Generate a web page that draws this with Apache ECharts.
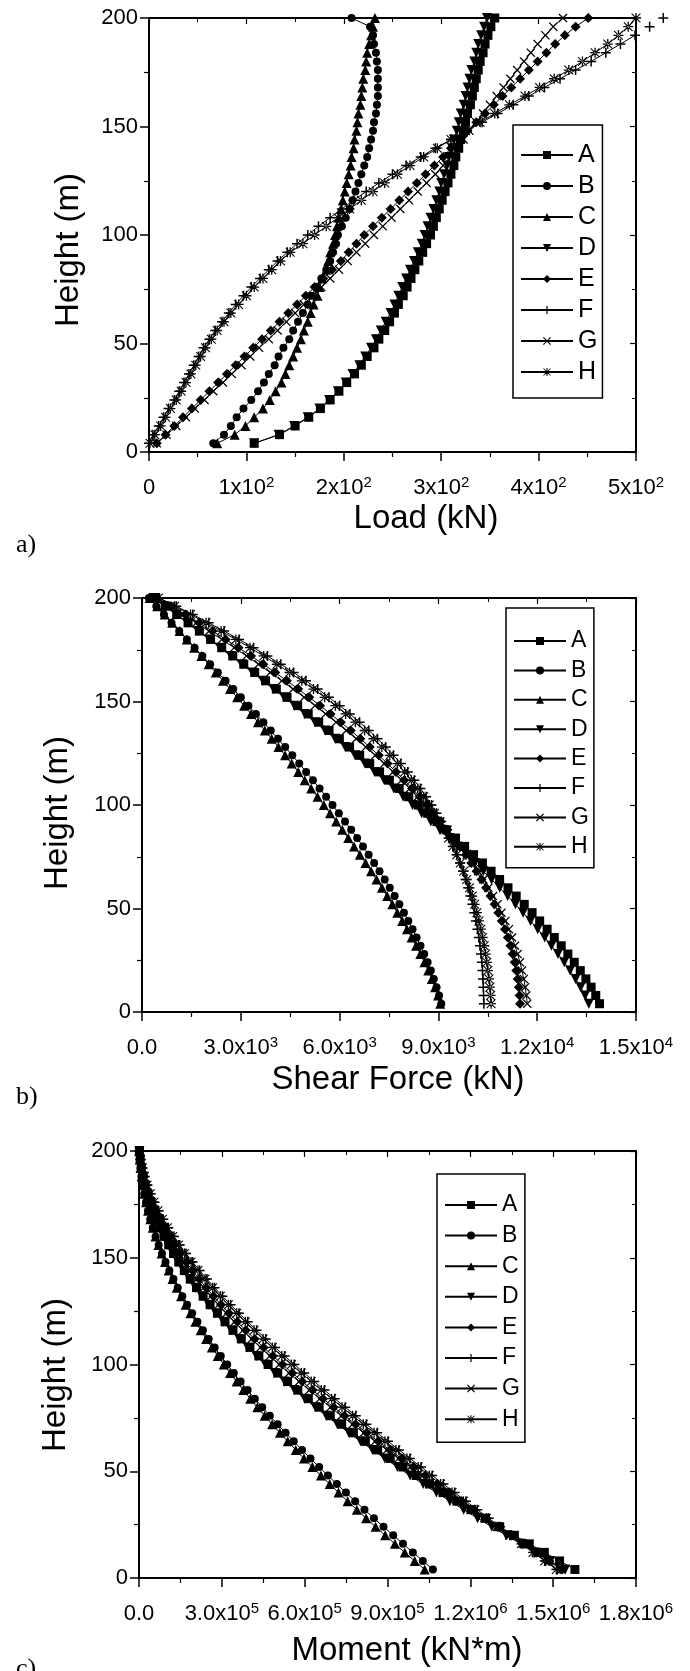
<!DOCTYPE html>
<html><head><meta charset="utf-8">
<script src="https://cdn.jsdelivr.net/npm/echarts@6.0.0/dist/echarts.min.js"></script>
<style>html,body{margin:0;padding:0;background:#fff}#c{width:690px;height:1671px}</style>
</head><body><div id="c"></div>
<script>
// ---------------- DATA ----------------
const heights = [4,8,12,16,20,24,28,32,36,40,44,48,52,56,60,64,68,72,76,80,84,88,92,96,100,104,108,112,116,120,124,128,132,136,140,144,148,152,156,160,164,168,172,176,180,184,188,192,196,200];
const seriesNames = ['A','B','C','D','E','F','G','H'];

// (a) Load (kN), listed from height 4 m up to 200 m
const loadA = [108,134,150,164,176,186,195,203,211,218,224,231,236,242,247,252,256,261,265,269,273,277,281,285,289,292,295,298,301,304,307,310,313,315,318,320,323,325,327,330,332,334,336,338,340,343,345,348,351,355];
const loadB = [66,77,84,90,97,105,112,118,123,129,133,138,144,148,153,158,163,167,172,177,182,186,189,192,194,198,202,206,209,212,215,218,221,224,226,228,230,231,233,234,235,235,235,235,234,233,231,230,227,208];
const loadC = [70,88,99,108,117,124,130,136,140,144,148,152,156,159,163,166,169,173,175,178,182,184,186,189,191,193,195,197,199,201,203,205,207,208,210,211,213,214,215,217,218,219,220,222,223,224,226,228,230,232];
const loadD = [108,133,149,163,175,185,194,202,209,216,222,228,233,238,243,248,252,256,260,264,268,272,276,280,283,286,289,292,295,298,300,303,306,308,311,313,316,318,320,323,325,327,329,331,334,336,338,341,344,347];
const loadE = [8,17,26,35,44,53,62,71,80,89,98,107,116,125,134,143,152,161,170,179,188,197,205,213,221,230,239,248,257,266,275,284,293,302,310,318,327,336,345,354,363,372,381,390,399,408,417,427,438,451];
const loadF = [0,4,10,15,20,26,31,36,41,46,51,56,62,68,75,82,89,97,105,114,123,132,142,152,163,174,186,198,210,223,236,250,264,279,294,310,326,342,358,374,390,406,422,438,454,469,484,499,514,528];
const loadG = [8,18,28,38,47,57,66,76,85,95,104,113,123,132,141,150,159,168,177,186,195,204,213,222,231,240,249,258,267,276,285,294,302,310,317,323,329,336,343,350,357,364,371,378,385,392,399,407,415,425];
const loadH = [1,6,12,17,22,28,33,38,43,48,53,58,64,70,77,84,92,100,108,117,126,135,145,158,170,182,194,206,218,230,242,255,268,282,296,310,325,340,355,370,386,401,416,431,445,458,471,482,492,500];

// (b) Shear force (kN)
const shearA = [13893,13778,13637,13479,13308,13125,12931,12729,12519,12301,12075,11844,11606,11362,11113,10859,10600,10336,10068,9796,9519,9239,8955,8674,8389,8100,7808,7513,7215,6914,6610,6303,5993,5680,5365,5047,4727,4404,4079,3752,3422,3090,2756,2420,2082,1742,1399,1054,706,355];
const shearB = [9087,9021,8944,8860,8770,8673,8568,8456,8338,8215,8086,7953,7815,7671,7523,7370,7212,7049,6882,6710,6533,6351,6165,5976,5784,5590,5392,5190,4984,4775,4563,4348,4130,3909,3685,3459,3231,3001,2770,2537,2303,2068,1833,1598,1363,1129,896,665,435,208];
const shearC = [9057,8987,8899,8800,8692,8575,8451,8321,8185,8045,7901,7753,7601,7445,7286,7123,6957,6788,6615,6440,6262,6080,5896,5710,5521,5330,5137,4942,4745,4546,4345,4142,3937,3730,3522,3312,3101,2888,2674,2459,2242,2024,1805,1585,1363,1140,916,690,462,232];
const shearD = [13567,13455,13319,13166,12999,12821,12632,12434,12229,12016,11797,11571,11339,11103,10861,10614,10363,10107,9847,9584,9316,9045,8769,8493,8213,7930,7644,7355,7063,6768,6470,6170,5867,5561,5253,4942,4629,4313,3995,3675,3352,3027,2700,2371,2040,1706,1370,1032,691,347];
const shearE = [11480,11465,11441,11408,11366,11314,11254,11185,11107,11020,10924,10819,10705,10582,10450,10309,10159,9999,9831,9654,9468,9273,9069,8864,8651,8430,8200,7961,7713,7456,7190,6915,6631,6338,6036,5726,5408,5081,4745,4400,4046,3683,3311,2930,2540,2141,1733,1316,889,451];
const shearF = [10380,10372,10364,10354,10339,10319,10293,10262,10226,10185,10139,10088,10032,9970,9902,9827,9745,9656,9559,9454,9340,9217,9085,8943,8791,8628,8454,8268,8070,7860,7637,7401,7151,6887,6608,6314,6004,5678,5336,4978,4604,4214,3808,3386,2948,2494,2025,1541,1042,528];
const shearG = [11698,11670,11636,11592,11538,11477,11406,11326,11238,11141,11034,10918,10793,10660,10518,10367,10207,10038,9860,9673,9477,9272,9058,8835,8603,8372,8132,7883,7625,7358,7082,6797,6503,6201,5891,5574,5251,4922,4586,4243,3893,3536,3172,2801,2423,2038,1646,1247,840,425];
const shearH = [10600,10584,10563,10536,10504,10472,10434,10391,10343,10290,10232,10169,10101,10027,9947,9860,9766,9664,9554,9436,9309,9173,9028,8883,8725,8555,8373,8179,7973,7755,7525,7283,7028,6760,6478,6182,5872,5547,5207,4852,4482,4096,3695,3279,2848,2403,1945,1474,992,500];

// (c) Moment (kN*m)
const momentA = [1578684,1523112,1468000,1413452,1359536,1306304,1253804,1202080,1151164,1101088,1051884,1003584,956208,909784,864336,819884,776448,734048,692704,652432,613248,575172,538216,502396,467700,434144,401744,370512,340460,311600,283944,257504,232292,208320,185600,164140,143952,125044,107428,91112,76104,62416,50056,39032,29352,21024,14056,8460,4244,1420];
const momentB = [1064296,1027948,991864,956088,920648,885568,850876,816604,782780,749428,716568,684224,652412,621152,590468,560376,530896,502048,473852,446324,419484,393352,367948,343288,319384,296248,273888,252320,231560,211624,192524,174272,156880,140360,124724,109984,96148,83224,71220,60140,49992,40780,32508,25176,18784,13332,8816,5232,2572,832];
const momentC = [1034636,998408,962460,926864,891664,856896,822596,788792,755508,722768,690588,658984,627972,597568,567788,538644,510152,482324,455172,428712,402952,377904,353584,330000,307160,285076,263756,243208,223440,204460,186276,168896,152328,136580,121660,107572,94324,81920,70368,59672,49836,40868,32772,25552,19212,13760,9200,5536,2776,928];
const momentD = [1543724,1489456,1435636,1382360,1329696,1277700,1226416,1175888,1126152,1077236,1029172,981984,935700,890344,845932,802488,760032,718580,678152,638764,600428,563164,526984,491908,457936,425084,393364,362788,333368,305116,278044,252164,227484,204016,181772,160760,140992,122476,105224,89244,74544,61136,49028,38228,28744,20584,13760,8280,4152,1388];
const momentE = [1532268,1486348,1440488,1394724,1349092,1303628,1258372,1213356,1168616,1124188,1080108,1036412,993136,950316,907988,866188,824952,784316,744320,704996,666380,628508,591416,555140,519684,485080,451360,418560,386716,355864,326040,297280,269620,243096,217744,193600,170696,149064,128740,109760,92160,75976,61244,48000,36280,26120,17556,10624,5360,1804];
const momentF = [1514824,1473304,1431816,1390360,1348944,1307588,1266312,1225140,1184092,1143188,1102448,1061892,1021540,981412,941532,901924,862616,823636,785012,746776,708960,671600,634732,598392,562620,527456,492944,459128,426056,393776,362336,331788,302184,273580,246032,219600,194344,170328,147616,126272,106360,87944,71088,55856,42312,30520,20544,12444,6280,2112];
const momentG = [1529904,1483112,1436432,1389888,1343520,1297368,1251460,1205836,1160532,1115580,1071016,1026880,983208,940036,897396,855324,813856,773028,732876,693436,654744,616836,579748,543516,508176,473764,440276,407748,376216,345716,316284,287956,260768,234756,209952,186388,164092,143088,123400,105056,88084,72512,58368,45680,34476,24784,16632,10048,5060,1700];
const momentH = [1511496,1469096,1426760,1384504,1342364,1300348,1258460,1216724,1175160,1133788,1092628,1051700,1011024,970620,930512,890724,851284,812220,773564,735348,697604,660368,623676,587564,552032,517132,482912,449420,416704,384812,353792,323692,294560,266448,239408,213496,188768,165280,143092,122264,102856,84928,68544,53764,40648,29256,19644,11864,5968,2000];

// tick labels (mantissa + superscript exponent)
const loadTickMant = ['0','1x10','2x10','3x10','4x10','5x10'];
const loadTickExp = ['','2','2','2','2','2'];
const shearTickMant = ['0.0','3.0x10','6.0x10','9.0x10','1.2x10','1.5x10'];
const shearTickExp = ['','3','3','3','4','4'];
const momentTickMant = ['0.0','3.0x10','6.0x10','9.0x10','1.2x10','1.5x10','1.8x10'];
const momentTickExp = ['','5','5','5','6','6','6'];
const heightTicks = ['0','50','100','150','200'];

const xTitles = ['Load (kN)','Shear Force (kN)','Moment (kN*m)'];
const yTitle = 'Height (m)';
const panelTags = ['a)','b)','c)'];

// ---------------- STYLE / LAYOUT ----------------
const FONT = '"Liberation Sans", Arial, Helvetica, sans-serif';
const SERIF = '"Liberation Serif", "Times New Roman", serif';

const invTri = 'path://M-10,-9L10,-9L0,9Z';
const plusSym = 'path://M-1.5,-10L1.5,-10L1.5,-1.5L10,-1.5L10,1.5L1.5,1.5L1.5,10L-1.5,10L-1.5,1.5L-10,1.5L-10,-1.5L-1.5,-1.5Z';
const crossSym = 'path://M-10,-8L-8,-10L0,-2L8,-10L10,-8L2,0L10,8L8,10L0,2L-8,10L-10,8L-2,0Z';
const starSym = 'path://M-1.3,-10L1.3,-10L1.3,-1.3L10,-1.3L10,1.3L1.3,1.3L1.3,10L-1.3,10L-1.3,1.3L-10,1.3L-10,-1.3L-1.3,-1.3Z M-8,-9.5L-9.5,-8L-1.5,0L-9.5,8L-8,9.5L0,1.5L8,9.5L9.5,8L1.5,0L9.5,-8L8,-9.5L0,-1.5Z';
const shapes = ['rect','circle','triangle',invTri,'diamond',plusSym,crossSym,starSym];
const sizes = [9,8,10,10,10,10,9,10];

const panels = [
  {grid:{left:149, top:18, width:487, height:434}, xMax:500, xInt:100, mant:loadTickMant, exp:loadTickExp,
   data:[loadA,loadB,loadC,loadD,loadE,loadF,loadG,loadH],
   legend:{left:513, top:125, padding:[17,5,13,7], itemGap:5, fontSize:25},
   yT:[69,250], xT:[426,519], tag:[16,545]},
  {grid:{left:142, top:598, width:494, height:414}, xMax:15000, xInt:3000, mant:shearTickMant, exp:shearTickExp,
   data:[shearA,shearB,shearC,shearD,shearE,shearF,shearG,shearH],
   legend:{left:506, top:608, padding:[20,5,8,7], itemGap:3.4, fontSize:23},
   yT:[58,813], xT:[398,1080], tag:[16,1097]},
  {grid:{left:139, top:1151, width:497, height:427}, xMax:1800000, xInt:300000, mant:momentTickMant, exp:momentTickExp,
   data:[momentA,momentB,momentC,momentD,momentE,momentF,momentG,momentH],
   legend:{left:437, top:1174, padding:[18,5,10,7], itemGap:4.6, fontSize:23},
   yT:[56,1375], xT:[407,1651], tag:[16,1669]}
];

const axisLineStyle = {color:'#000', width:2};
const grids = [], xAxes = [], yAxes = [], series = [], legends = [], graphics = [];

panels.forEach((p, pi) => {
  grids.push(Object.assign({}, p.grid));
  const mant = p.mant, exp = p.exp, xInt = p.xInt;
  xAxes.push({
    type:'value', gridIndex:pi, position:'bottom', min:0, max:p.xMax, interval:xInt,
    axisLine:{show:true, onZero:false, lineStyle:axisLineStyle},
    axisTick:{show:true, inside:false, length:9, lineStyle:{color:'#000', width:1.5}},
    minorTick:{show:true, splitNumber:2, length:5, lineStyle:{color:'#000', width:1.2}},
    splitLine:{show:false}, minorSplitLine:{show:false},
    axisLabel:{
      margin:23, showMinLabel:true, showMaxLabel:true, hideOverlap:false,
      formatter:(v) => { const i = Math.round(v / xInt); return exp[i] ? '{m|' + mant[i] + '}{e|' + exp[i] + '}' : '{m|' + mant[i] + '}'; },
      rich:{
        m:{fontSize:22, fontFamily:FONT, color:'#000', lineHeight:26},
        e:{fontSize:15, fontFamily:FONT, color:'#000', lineHeight:14, verticalAlign:'top'}
      }
    }
  });
  xAxes.push({
    type:'value', gridIndex:pi, position:'top', min:0, max:p.xMax, interval:xInt,
    axisLine:{show:true, onZero:false, lineStyle:axisLineStyle},
    axisTick:{show:true, inside:true, length:6, lineStyle:{color:'#000', width:1.2}},
    minorTick:{show:true, splitNumber:2, length:4, lineStyle:{color:'#000', width:1}},
    splitLine:{show:false}, axisLabel:{show:false}
  });
  yAxes.push({
    type:'value', gridIndex:pi, position:'left', min:0, max:200, interval:50,
    axisLine:{show:true, onZero:false, lineStyle:axisLineStyle},
    axisTick:{show:true, inside:false, length:9, lineStyle:{color:'#000', width:1.5}},
    minorTick:{show:true, splitNumber:2, length:5, lineStyle:{color:'#000', width:1.2}},
    splitLine:{show:false},
    axisLabel:{margin:11, fontSize:22, fontFamily:FONT, color:'#000', showMinLabel:true, showMaxLabel:true,
      formatter:(v) => heightTicks[Math.round(v / 50)]}
  });
  yAxes.push({
    type:'value', gridIndex:pi, position:'right', min:0, max:200, interval:50,
    axisLine:{show:true, onZero:false, lineStyle:axisLineStyle},
    axisTick:{show:true, inside:true, length:6, lineStyle:{color:'#000', width:1.2}},
    minorTick:{show:true, splitNumber:2, length:4, lineStyle:{color:'#000', width:1}},
    splitLine:{show:false}, axisLabel:{show:false}
  });
  seriesNames.forEach((n, si) => {
    const vals = p.data[si];
    series.push({
      type:'line', name:n, xAxisIndex:pi*2, yAxisIndex:pi*2,
      data: heights.map((h, k) => [vals[k], h]),
      symbol:shapes[si], symbolSize:sizes[si], showSymbol:true, showAllSymbol:true,
      color:'#000', lineStyle:{color:'#000', width:1}, itemStyle:{color:'#000'},
      clip:false, silent:true, animation:false
    });
  });
  legends.push({
    show:true, data:seriesNames, orient:'vertical', left:p.legend.left, top:p.legend.top,
    padding:p.legend.padding, itemGap:p.legend.itemGap, itemWidth:52, itemHeight:10,
    borderColor:'#000', borderWidth:1.5, backgroundColor:'#fff', selectedMode:false,
    textStyle:{fontSize:p.legend.fontSize, fontFamily:FONT, color:'#000', lineHeight:26}
  });
  graphics.push({type:'text', x:p.yT[0], y:p.yT[1], rotation:Math.PI/2,
    style:{text:yTitle, font:'33px ' + FONT, fill:'#000', textAlign:'center', textVerticalAlign:'middle'}});
  graphics.push({type:'text', x:p.xT[0], y:p.xT[1],
    style:{text:xTitles[pi], font:'33px ' + FONT, fill:'#000', textAlign:'center', textVerticalAlign:'middle'}});
  graphics.push({type:'text', x:p.tag[0], y:p.tag[1],
    style:{text:panelTags[pi], font:'26px ' + SERIF, fill:'#000', textAlign:'left', textVerticalAlign:'middle'}});
});

const chart = echarts.init(document.getElementById('c'), null, {renderer:'canvas', width:690, height:1671});
chart.setOption({
  animation:false, backgroundColor:'#fff',
  grid:grids, xAxis:xAxes, yAxis:yAxes, series:series, legend:legends, graphic:graphics
});
</script>
</body></html>
